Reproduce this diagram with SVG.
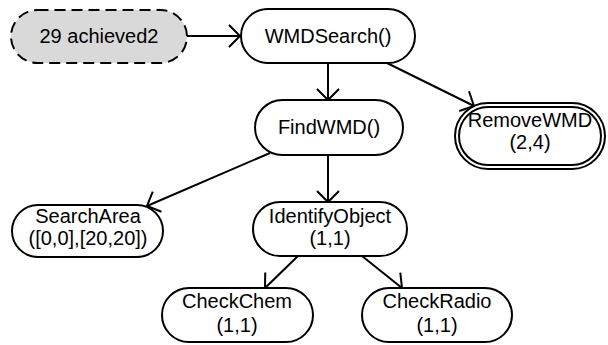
<svg xmlns="http://www.w3.org/2000/svg" width="608" height="345" viewBox="0 0 608 345">
<defs>
<style>
.n{fill:#fff;stroke:#000;stroke-width:2}
.s{fill:#d9d9d9;stroke:#000;stroke-width:2;stroke-dasharray:11 6}
.t{font-family:"Liberation Sans",Arial,sans-serif;font-size:20px;fill:#000;text-anchor:middle}
.e{fill:none;stroke:#000;stroke-width:2}
</style>
<marker id="a" markerWidth="14" markerHeight="26" refX="12" refY="12" orient="auto" markerUnits="userSpaceOnUse" overflow="visible">
<path d="M1,1 L12,12 L1,23" fill="none" stroke="#000" stroke-width="2"/>
</marker>
</defs>
<g id="connectors">
<line class="e" x1="187" y1="36" x2="240" y2="36" marker-end="url(#a)"/>
<line class="e" x1="328" y1="63" x2="328" y2="100" marker-end="url(#a)"/>
<line class="e" x1="387" y1="63" x2="474" y2="106" marker-end="url(#a)"/>
<line class="e" x1="270" y1="153" x2="147" y2="206" marker-end="url(#a)"/>
<line class="e" x1="328" y1="155" x2="328" y2="202" marker-end="url(#a)"/>
<line class="e" x1="298" y1="256" x2="265" y2="288" marker-end="url(#a)"/>
<line class="e" x1="362" y1="256" x2="402" y2="288" marker-end="url(#a)"/>
</g>
<g id="start">
<rect class="s" x="11" y="10" width="176" height="53" rx="26.5"/>
<text class="t" x="99" y="43">29 achieved2</text>
</g>
<g id="wmdsearch">
<rect class="n" x="241" y="9" width="174" height="54" rx="27"/>
<text class="t" x="328" y="43">WMDSearch()</text>
</g>
<g id="findwmd">
<rect class="n" x="255" y="100" width="148" height="55" rx="27.5"/>
<text class="t" x="329" y="134">FindWMD()</text>
</g>
<g id="removewmd">
<rect class="n" x="455" y="103" width="150" height="66" rx="33"/>
<rect class="n" x="459" y="107" width="142" height="58" rx="29"/>
<text class="t" x="530" y="127">RemoveWMD</text>
<text class="t" x="530" y="149">(2,4)</text>
</g>
<g id="searcharea">
<rect class="n" x="12" y="205" width="151" height="52" rx="26"/>
<text class="t" x="88" y="223">SearchArea</text>
<text class="t" x="88" y="245">([0,0],[20,20])</text>
</g>
<g id="identifyobject">
<rect class="n" x="253" y="202" width="154" height="54" rx="27"/>
<text class="t" x="330" y="223">IdentifyObject</text>
<text class="t" x="330" y="245">(1,1)</text>
</g>
<g id="checkchem">
<rect class="n" x="162" y="288" width="151" height="54" rx="27"/>
<text class="t" x="237" y="308">CheckChem</text>
<text class="t" x="237" y="332">(1,1)</text>
</g>
<g id="checkradio">
<rect class="n" x="362" y="288" width="150" height="54" rx="27"/>
<text class="t" x="437" y="308">CheckRadio</text>
<text class="t" x="437" y="332">(1,1)</text>
</g>
</svg>
